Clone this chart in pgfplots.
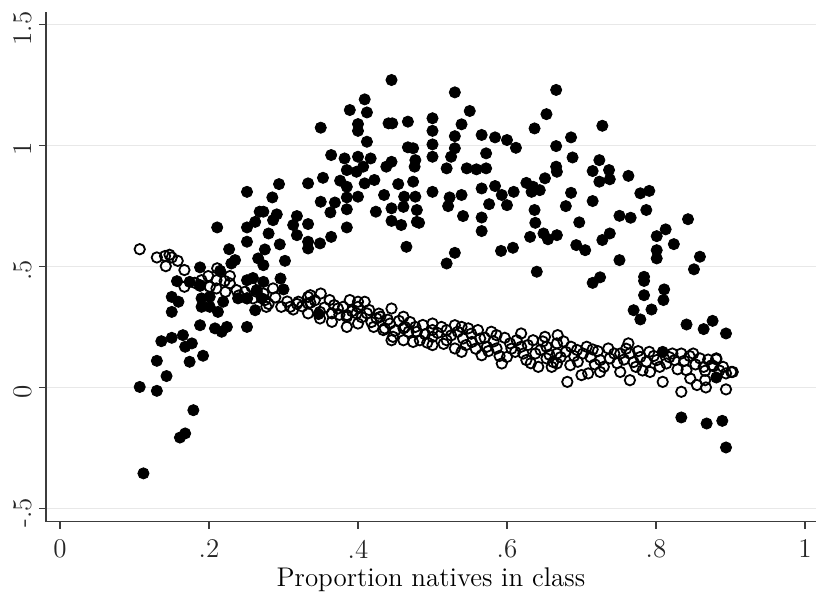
\documentclass[border=0pt]{standalone}
\usepackage{pgfplots}
\pgfplotsset{compat=1.18}
\usepackage{pgfplotstable}

% Observed outcomes (filled markers)
\pgfplotstableread{
x y
0.251 0.808
0.268 0.726
0.211 0.661
0.251 0.661
0.262 0.684
0.251 0.602
0.227 0.571
0.235 0.526
0.230 0.512
0.266 0.533
0.188 0.496
0.215 0.482
0.157 0.439
0.174 0.436
0.188 0.423
0.251 0.443
0.259 0.452
0.150 0.374
0.159 0.354
0.150 0.312
0.190 0.368
0.201 0.374
0.190 0.333
0.201 0.333
0.212 0.312
0.219 0.354
0.239 0.368
0.251 0.368
0.262 0.319
0.188 0.257
0.208 0.244
0.217 0.230
0.224 0.250
0.251 0.250
0.136 0.191
0.150 0.205
0.165 0.216
0.168 0.168
0.177 0.182
0.130 0.110
0.174 0.106
0.192 0.131
0.143 0.047
0.107 0.002
0.130 -0.014
0.179 -0.094
0.161 -0.207
0.168 -0.190
0.112 -0.355
0.445 1.270
0.409 1.190
0.389 1.146
0.412 1.136
0.400 1.088
0.400 1.060
0.350 1.073
0.441 1.091
0.446 1.091
0.467 1.098
0.412 1.015
0.467 0.992
0.474 0.988
0.364 0.960
0.382 0.946
0.400 0.953
0.417 0.946
0.407 0.912
0.398 0.891
0.385 0.898
0.438 0.912
0.445 0.932
0.477 0.939
0.476 0.912
0.294 0.840
0.333 0.843
0.353 0.866
0.376 0.854
0.385 0.829
0.409 0.843
0.422 0.857
0.454 0.840
0.474 0.850
0.285 0.785
0.350 0.767
0.369 0.764
0.385 0.785
0.400 0.788
0.435 0.795
0.462 0.788
0.477 0.788
0.273 0.726
0.291 0.715
0.363 0.723
0.385 0.736
0.424 0.726
0.445 0.740
0.461 0.746
0.479 0.733
0.286 0.691
0.318 0.708
0.313 0.671
0.333 0.675
0.445 0.688
0.458 0.671
0.479 0.684
0.385 0.661
0.280 0.636
0.318 0.629
0.295 0.591
0.333 0.602
0.333 0.574
0.349 0.595
0.364 0.622
0.465 0.581
0.275 0.570
0.273 0.505
0.302 0.523
0.296 0.450
0.273 0.436
0.300 0.405
0.264 0.402
0.271 0.368
0.347 0.303
0.530 1.219
0.666 1.229
0.550 1.142
0.653 1.129
0.500 1.112
0.500 1.060
0.539 1.087
0.637 1.070
0.530 1.038
0.566 1.043
0.584 1.033
0.600 1.022
0.612 0.990
0.500 1.004
0.530 0.988
0.572 0.967
0.666 0.997
0.500 0.953
0.525 0.953
0.519 0.905
0.546 0.905
0.559 0.901
0.572 0.905
0.666 0.912
0.651 0.864
0.626 0.845
0.635 0.829
0.644 0.815
0.633 0.808
0.500 0.808
0.566 0.822
0.584 0.832
0.593 0.795
0.609 0.808
0.539 0.795
0.523 0.785
0.521 0.749
0.576 0.757
0.600 0.753
0.637 0.733
0.541 0.708
0.566 0.702
0.482 0.680
0.638 0.680
0.566 0.646
0.649 0.636
0.631 0.622
0.655 0.612
0.667 0.629
0.530 0.556
0.519 0.512
0.592 0.564
0.608 0.577
0.640 0.478
0.728 1.081
0.686 1.033
0.688 0.950
0.667 0.891
0.724 0.939
0.715 0.894
0.737 0.898
0.724 0.850
0.738 0.860
0.763 0.874
0.686 0.804
0.679 0.749
0.715 0.770
0.779 0.802
0.791 0.812
0.787 0.733
0.697 0.682
0.751 0.709
0.766 0.701
0.843 0.695
0.738 0.636
0.728 0.609
0.693 0.588
0.705 0.567
0.813 0.653
0.801 0.625
0.824 0.592
0.801 0.567
0.801 0.533
0.751 0.526
0.859 0.540
0.851 0.488
0.725 0.455
0.715 0.432
0.784 0.457
0.784 0.440
0.784 0.381
0.811 0.405
0.810 0.361
0.770 0.319
0.779 0.281
0.794 0.322
0.841 0.260
0.864 0.241
0.876 0.275
0.894 0.223
0.881 0.041
0.868 -0.149
0.889 -0.138
0.894 -0.248
0.834 -0.124
0.809 0.147
}\observed

% Predicted values (hollow markers)
\pgfplotstableread{
x y
0.107 0.571
0.130 0.537
0.141 0.543
0.147 0.548
0.150 0.537
0.158 0.523
0.142 0.501
0.167 0.485
0.167 0.416
0.181 0.432
0.190 0.443
0.188 0.420
0.199 0.460
0.211 0.492
0.228 0.460
0.221 0.440
0.210 0.443
0.201 0.416
0.210 0.409
0.222 0.395
0.228 0.430
0.237 0.402
0.248 0.395
0.257 0.416
0.251 0.368
0.240 0.380
0.259 0.368
0.264 0.395
0.275 0.361
0.273 0.388
0.286 0.409
0.289 0.372
0.277 0.333
0.280 0.345
0.297 0.333
0.309 0.333
0.313 0.322
0.320 0.354
0.333 0.374
0.336 0.381
0.350 0.388
0.336 0.350
0.333 0.347
0.362 0.361
0.333 0.306
0.349 0.312
0.349 0.285
0.365 0.306
0.365 0.271
0.373 0.326
0.380 0.333
0.389 0.361
0.385 0.292
0.385 0.250
0.385 0.299
0.400 0.354
0.409 0.354
0.398 0.306
0.412 0.306
0.400 0.264
0.400 0.333
0.425 0.285
0.421 0.250
0.430 0.292
0.436 0.244
0.445 0.326
0.443 0.264
0.434 0.237
0.447 0.209
0.445 0.195
0.461 0.292
0.463 0.250
0.461 0.244
0.461 0.195
0.477 0.250
0.479 0.230
0.474 0.188
0.483 0.195
0.470 0.270
0.490 0.220
0.305 0.355
0.318 0.345
0.325 0.335
0.342 0.360
0.355 0.330
0.368 0.340
0.375 0.300
0.392 0.315
0.405 0.290
0.415 0.320
0.418 0.270
0.428 0.305
0.440 0.280
0.450 0.235
0.500 0.264
0.500 0.237
0.500 0.209
0.500 0.175
0.519 0.237
0.519 0.195
0.530 0.257
0.530 0.161
0.539 0.250
0.541 0.202
0.548 0.244
0.539 0.147
0.553 0.188
0.561 0.237
0.564 0.202
0.566 0.133
0.573 0.168
0.579 0.230
0.586 0.216
0.586 0.161
0.593 0.099
0.600 0.126
0.604 0.182
0.611 0.147
0.619 0.223
0.619 0.168
0.626 0.113
0.635 0.195
0.638 0.140
0.642 0.085
0.651 0.209
0.653 0.168
0.653 0.120
0.660 0.085
0.667 0.182
0.667 0.140
0.455 0.275
0.468 0.230
0.487 0.258
0.493 0.185
0.507 0.225
0.512 0.250
0.515 0.180
0.525 0.215
0.534 0.230
0.545 0.175
0.552 0.222
0.558 0.160
0.570 0.205
0.575 0.150
0.582 0.190
0.590 0.130
0.597 0.205
0.606 0.160
0.613 0.195
0.622 0.140
0.628 0.175
0.632 0.100
0.645 0.155
0.648 0.190
0.657 0.135
0.662 0.105
0.668 0.216
0.667 0.099
0.679 0.147
0.686 0.168
0.681 0.023
0.685 0.092
0.700 0.051
0.695 0.106
0.702 0.140
0.707 0.168
0.715 0.157
0.709 0.058
0.725 0.064
0.725 0.113
0.736 0.161
0.738 0.120
0.752 0.140
0.752 0.064
0.763 0.182
0.765 0.140
0.765 0.030
0.773 0.085
0.779 0.126
0.787 0.106
0.791 0.147
0.792 0.064
0.801 0.113
0.809 0.023
0.814 0.099
0.822 0.140
0.825 0.113
0.834 0.140
0.834 -0.018
0.841 0.071
0.846 0.037
0.850 0.140
0.855 0.010
0.859 0.120
0.864 0.085
0.866 0.030
0.875 0.092
0.881 0.120
0.890 0.085
0.894 0.058
0.894 -0.008
0.903 0.064
0.881 0.116
0.901 0.064
0.866 0.069
0.867 0.000
0.877 0.088
0.672 0.125
0.676 0.190
0.690 0.130
0.694 0.155
0.712 0.125
0.718 0.095
0.722 0.150
0.730 0.085
0.744 0.140
0.748 0.100
0.757 0.115
0.760 0.160
0.770 0.105
0.776 0.150
0.782 0.070
0.797 0.130
0.805 0.085
0.818 0.125
0.829 0.075
0.838 0.110
0.845 0.130
0.853 0.095
0.870 0.115
0.885 0.070
}\predicted

\definecolor{axisgray}{RGB}{60,60,60}
\definecolor{gridgray}{RGB}{232,232,232}

\begin{document}
\begin{tikzpicture}
\useasboundingbox (-23pt,-35.2pt) rectangle (385pt,260.9pt);
\begin{axis}[
  at={(0,0)}, anchor=south west,
  scale only axis,
  width=385pt, height=254.9pt,
  xmin=-0.0188, xmax=1.0148,
  ymin=-0.555, ymax=1.551,
  axis x line*=bottom, axis y line*=left,
  axis line style={axisgray, line width=0.65pt},
  xtick={0,0.2,0.4,0.6,0.8,1},
  xticklabels={0,.2,.4,.6,.8,1},
  ytick={-0.5,0,0.5,1,1.5},
  yticklabels={-.5,0,.5,1,1.5},
  tick align=outside,
  major tick length=3.5pt,
  tick style={axisgray, line width=0.6pt},
  ymajorgrids,
  grid style={gridgray, line width=0.75pt},
  /pgf/number format/assume math mode=true,
  tick label style={font=\fontsize{13.5}{15}\selectfont, text=black!85},
  xticklabel style={yshift=-2pt},
  yticklabel style={rotate=90, anchor=south, xshift=-2pt},
  xlabel={Proportion natives in class},
  xlabel style={font=\fontsize{13.5}{15}\selectfont, yshift=2pt},
  clip=false,
]
\addplot[only marks, mark=*, mark size=2.8pt, black] table {\observed};
\addplot[only marks, mark=o, mark size=2.6pt, mark options={black, line width=0.9pt, fill=white}] table {\predicted};
\end{axis}
\end{tikzpicture}
\end{document}
